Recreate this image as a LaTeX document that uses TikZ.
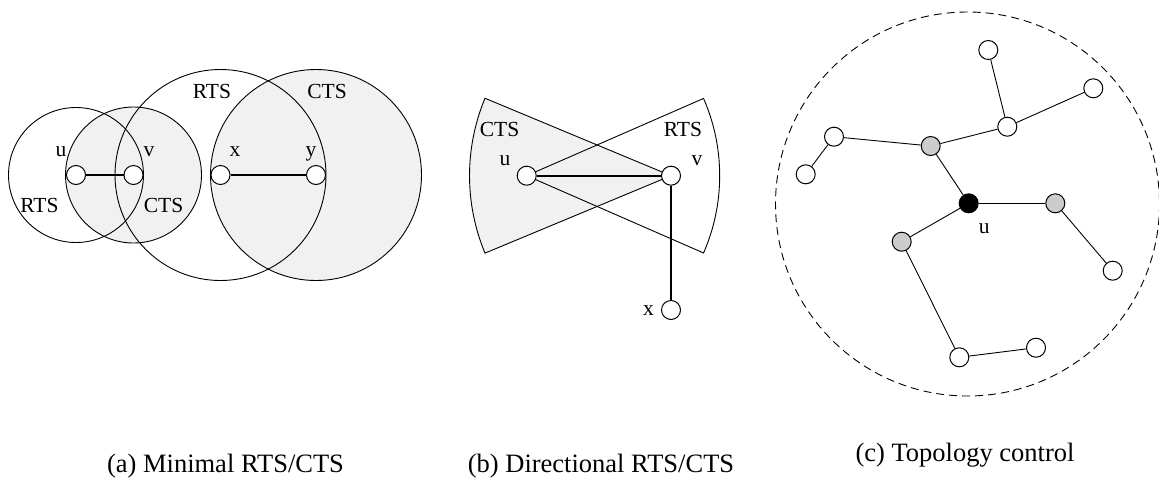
\documentclass[tikz,border=0pt]{standalone}
\usepackage{fontspec}
\setmainfont{Liberation Serif}
\usetikzlibrary{calc}
\begin{document}
\begin{tikzpicture}[x=1pt,y=-1pt,
  nd/.style={circle,draw,line width=1pt,fill=white,minimum size=19pt,inner sep=0pt},
  gnd/.style={nd,fill=nodegray},
  bnd/.style={nd,fill=black},
  rng/.style={draw,line width=0.9pt},
  lbl/.style={anchor=base,inner sep=0pt,font=\fontsize{21.5}{25}\selectfont},
  captext/.style={anchor=base,inner sep=0pt,font=\fontsize{26.5}{30}\selectfont},
  thk/.style={line width=2.2pt},
  thn/.style={line width=0.9pt}]
\definecolor{areagray}{HTML}{F1F1F1}
\definecolor{nodegray}{HTML}{CCCCCC}
\useasboundingbox (0,0) rectangle (1159,480);
% ---------- (a) ----------
\coordinate (ua) at (76,175);
\coordinate (va) at (133.5,175);
\coordinate (xa) at (220.5,175);
\coordinate (ya) at (316,175);
\fill[areagray] (va) circle[radius=68];
\fill[areagray] (ya) circle[radius=105.5];
\draw[rng] (ua) circle[radius=67.5];
\draw[rng] (va) circle[radius=68];
\draw[rng] (xa) circle[radius=105.5];
\draw[rng] (ya) circle[radius=105.5];
\node[nd] (nua) at (ua) {};
\node[nd] (nva) at (va) {};
\node[nd] (nxa) at (xa) {};
\node[nd] (nya) at (ya) {};
\draw[thk] (nua) -- (nva);
\draw[thk] (nxa) -- (nya);
\node[lbl] (lua) at (61,156.5) {u};
\node[lbl] (lva) at (149,156.5) {v};
\node[lbl] (lxa) at (235,156.5) {x};
\node[lbl] (lya) at (311,156.5) {y};
\node[lbl] (r1) at (39.5,212.5) {RTS};
\node[lbl] (c1) at (163.5,212.5) {CTS};
\node[lbl] (r2) at (212,98.5) {RTS};
\node[lbl] (c2) at (327,98.5) {CTS};
% ---------- (b) ----------
\coordinate (ub) at (526.7,175.7);
\coordinate (vb) at (671,175.7);
\coordinate (xb) at (671,310);
\fill[areagray,draw=black,line width=0.9pt] (vb) -- ($(vb)+(157.4:201.5)$) arc[start angle=157.4,end angle=202.6,radius=201.5] -- cycle;
\draw[rng] (ub) -- ($(ub)+(-23.6:193)$) arc[start angle=-23.6,end angle=23.6,radius=193] -- cycle;
\node[nd] (nub) at (ub) {};
\node[nd] (nvb) at (vb) {};
\node[nd] (nxb) at (xb) {};
\draw[thk] (nub) -- (nvb);
\draw[thk] (nvb) -- (nxb);
\node[lbl] (c3) at (499.5,136.5) {CTS};
\node[lbl] (r3) at (683,136.5) {RTS};
\node[lbl] (lub) at (505,165) {u};
\node[lbl] (lvb) at (697,165) {v};
\node[lbl] (lxb) at (648.5,315.5) {x};
% ---------- (c) ----------
\draw[thn,dash pattern=on 8pt off 5pt] (967.5,204) circle[radius=192];
\node[nd] (n1) at (988.3,50) {};
\node[nd] (n2) at (1093.3,88.3) {};
\node[nd] (n3) at (1007.3,126.7) {};
\node[nd] (n4) at (834,136.7) {};
\node[gnd] (g1) at (930.7,146) {};
\node[nd] (n5) at (805.7,174.3) {};
\node[bnd] (uc) at (968.7,203.3) {};
\node[gnd] (g2) at (1055.3,203.3) {};
\node[gnd] (g3) at (901.7,241.7) {};
\node[nd] (n6) at (1112.7,270.7) {};
\node[nd] (n7) at (959.3,357.3) {};
\node[nd] (n8) at (1036,347.7) {};
\draw[thn] (n1) -- (n3);
\draw[thn] (n3) -- (n2);
\draw[thn] (n3) -- (g1);
\draw[thn] (g1) -- (n4);
\draw[thn] (n4) -- (n5);
\draw[thn] (g1) -- (uc);
\draw[thn] (uc) -- (g2);
\draw[thn] (g2) -- (n6);
\draw[thn] (uc) -- (g3);
\draw[thn] (g3) -- (n7);
\draw[thn] (n7) -- (n8);
\node[lbl] (luc) at (984.3,233) {u};
% ---------- captions ----------
\node[captext] (capa) at (225.5,472.5) {(a) Minimal RTS/CTS};
\node[captext] (capb) at (601,472) {(b) Directional RTS/CTS};
\node[captext] (capc) at (965,461.5) {(c) Topology control};
\end{tikzpicture}
\end{document}
